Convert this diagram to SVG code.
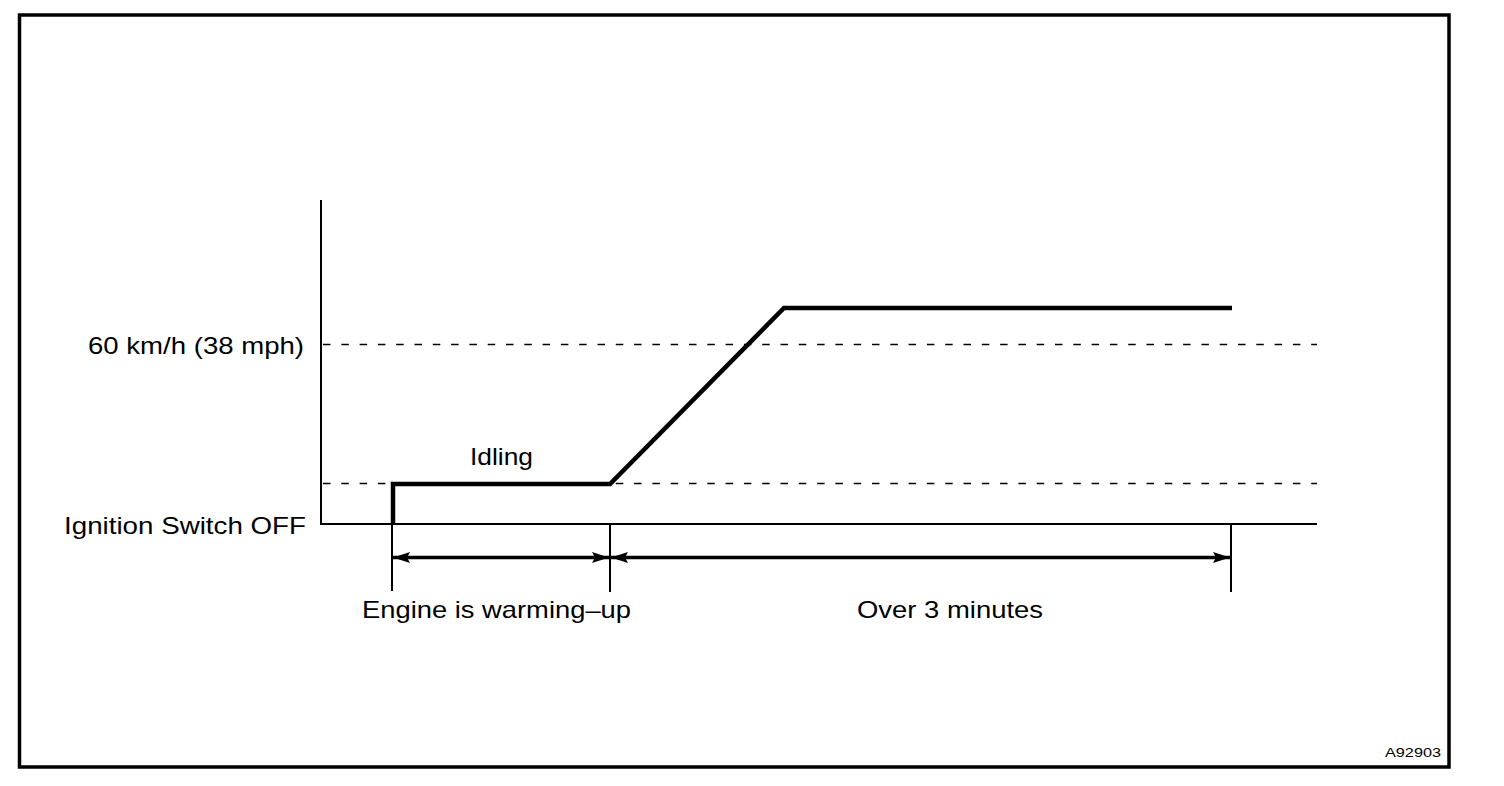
<svg xmlns="http://www.w3.org/2000/svg" width="1504" height="786" viewBox="0 0 1504 786">
<style>
.t{font-family:"Liberation Sans",Arial,sans-serif;font-size:24px;fill:#000}
.thin{stroke:#000;stroke-width:2;fill:none}
.dash{stroke:#000;stroke-width:1.7;stroke-dasharray:7.5 10.8;fill:none}
.dim{stroke:#000;stroke-width:3.5;fill:none}
</style>
<defs>
<marker id="ah" viewBox="0 0 17 12" refX="17" refY="6" markerWidth="17" markerHeight="12" markerUnits="userSpaceOnUse" orient="auto-start-reverse">
<path d="M0,0.5 L17,6 L0,11.5 L3,6 Z" fill="#000"/>
</marker>
</defs>
<rect id="frame" x="19.5" y="15" width="1429.5" height="752" fill="#fff" stroke="#000" stroke-width="3.5"/>
<g id="axes">
<line class="thin" x1="321" y1="200" x2="321" y2="525"/>
<line class="thin" x1="320" y1="524" x2="1317" y2="524"/>
</g>
<g id="levels">
<line class="dash" x1="323" y1="344.5" x2="1317" y2="344.5"/>
<line class="dash" x1="323" y1="483.5" x2="1317" y2="483.5"/>
</g>
<g id="profile">
<path d="M393,524 L393,484 L610,484 L784,308 L1232,308" fill="none" stroke="#000" stroke-width="4.5" stroke-linejoin="miter"/>
</g>
<g id="connectors">
<line class="thin" x1="392" y1="525" x2="392" y2="591"/>
<line class="thin" x1="610" y1="524" x2="610" y2="592"/>
<line class="thin" x1="1231" y1="524" x2="1231" y2="592"/>
<line class="dim" x1="393" y1="557.5" x2="609" y2="557.5" marker-start="url(#ah)" marker-end="url(#ah)"/>
<line class="dim" x1="611" y1="557.5" x2="1230" y2="557.5" marker-start="url(#ah)" marker-end="url(#ah)"/>
</g>
<g id="labels">
<text class="t" x="88" y="354" textLength="216" lengthAdjust="spacingAndGlyphs">60 km/h (38 mph)</text>
<text class="t" x="64" y="534" textLength="242" lengthAdjust="spacingAndGlyphs">Ignition Switch OFF</text>
<text class="t" x="470" y="465" textLength="63" lengthAdjust="spacingAndGlyphs">Idling</text>
<text class="t" x="362" y="618" textLength="269" lengthAdjust="spacingAndGlyphs">Engine is warming–up</text>
<text class="t" x="857" y="618" textLength="186" lengthAdjust="spacingAndGlyphs">Over 3 minutes</text>
<text x="1385" y="757" font-family="'Liberation Sans',Arial,sans-serif" font-size="13" textLength="56" lengthAdjust="spacingAndGlyphs">A92903</text>
</g>
</svg>
